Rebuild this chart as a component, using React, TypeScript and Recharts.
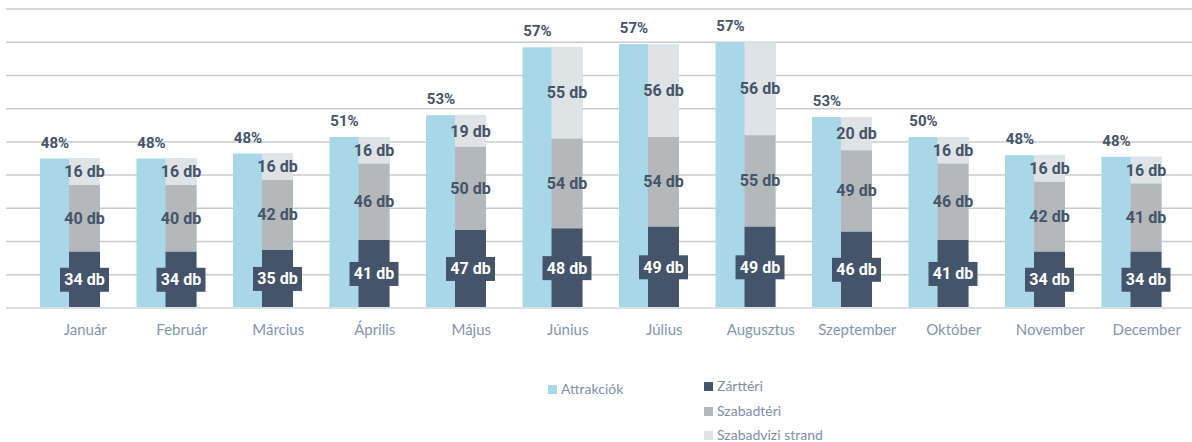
import { BarChart, Bar, XAxis, YAxis, CartesianGrid, LabelList } from 'recharts';

const months = ['Január', 'Február', 'Március', 'Április', 'Május', 'Június', 'Július', 'Augusztus', 'Szeptember', 'Október', 'November', 'December'];
const attrakciok = [90, 90, 93, 103, 116, 157, 159, 160, 115, 103, 92, 91];
const attrakciokPct = [48, 48, 48, 51, 53, 57, 57, 57, 53, 50, 48, 48];
const zartteri = [34, 34, 35, 41, 47, 48, 49, 49, 46, 41, 34, 34];
const szabadteri = [40, 40, 42, 46, 50, 54, 54, 55, 49, 46, 42, 41];
const strand = [16, 16, 16, 16, 19, 55, 56, 56, 20, 16, 16, 16];
const yTicks = [0, 20, 40, 60, 80, 100, 120, 140, 160, 180];

const BLUE = '#a8d8e8';
const DARK = '#44546a';
const GRAY = '#b5b8ba';
const LIGHT = '#dfe3e6';
const TEXT = '#44546a';
const AXIS_TEXT = '#8496b0';

const data = months.map((m, i) => ({
  month: m,
  attr: attrakciok[i],
  pct: attrakciokPct[i],
  zart: zartteri[i],
  szabad: szabadteri[i],
  strand: strand[i],
}));

const labelFont = 'Roboto, "Noto Sans", sans-serif';

const PctLabel = (props: any) => {
  const { x, y, value } = props;
  return (
    <text x={x + 15} y={y - 16} textAnchor="middle" dominantBaseline="central"
      fontFamily={labelFont} fontWeight={700} fontSize={15} fill={TEXT}>
      {value}%
    </text>
  );
};

const InnerLabel = (props: any) => {
  const { x, y, width, height, value } = props;
  return (
    <text x={x + width / 2} y={y + height / 2} textAnchor="middle" dominantBaseline="central"
      fontFamily={labelFont} fontWeight={700} fontSize={16} fill={TEXT}>
      {value} db
    </text>
  );
};

const BoxLabel = (props: any) => {
  const { x, y, width, height, value } = props;
  const cx = x + width / 2;
  const cy = y + height / 2;
  return (
    <g>
      <rect x={cx - 24.5} y={cy - 12} width={49} height={24} fill={DARK} />
      <text x={cx} y={cy} textAnchor="middle" dominantBaseline="central"
        fontFamily={labelFont} fontWeight={700} fontSize={16} fill="#ffffff">
        {value} db
      </text>
    </g>
  );
};

const MonthTick = (props: any) => {
  const { x, y, payload } = props;
  return (
    <text x={x + 15} y={y + 13} textAnchor="middle" dominantBaseline="central"
      fontFamily='Lato, "Open Sans", sans-serif' fontSize={15} fill={AXIS_TEXT}>
      {payload.value}
    </text>
  );
};

const legendItems = [
  { name: 'Attrakciók', color: BLUE, left: 548, top: 388 },
  { name: 'Zárttéri', color: DARK, left: 704, top: 385 },
  { name: 'Szabadtéri', color: GRAY, left: 704, top: 410 },
  { name: 'Szabadvizi strand', color: LIGHT, left: 704, top: 434 },
];

export default function App() {
  return (
    <div style={{ position: 'relative', width: 1192, height: 442, background: '#fff' }}>
      <style>{'body{margin:0}'}</style>
      <BarChart width={1192} height={442} data={data} barGap={-31}
        margin={{ top: 9, right: 0, left: 6, bottom: 104 }}>
        <CartesianGrid vertical={false} stroke="#cbcbcb" strokeWidth={1.5} />
        <XAxis dataKey="month" height={30} padding={{ left: 16, right: 12 }}
          axisLine={{ stroke: '#dcdfe2', strokeWidth: 2 }} tickLine={false} tick={<MonthTick />} interval={0} />
        <YAxis hide domain={[0, 180]} ticks={yTicks} />
        <Bar dataKey="attr" name="Attrakciók" stackId="a" fill={BLUE} barSize={60} isAnimationActive={false}>
          <LabelList dataKey="pct" content={<PctLabel />} />
        </Bar>
        <Bar dataKey="zart" name="Zárttéri" stackId="s" fill={DARK} barSize={31} isAnimationActive={false}>
          <LabelList dataKey="zart" content={<BoxLabel />} />
        </Bar>
        <Bar dataKey="szabad" name="Szabadtéri" stackId="s" fill={GRAY} barSize={31} isAnimationActive={false}>
          <LabelList dataKey="szabad" content={<InnerLabel />} />
        </Bar>
        <Bar dataKey="strand" name="Szabadvizi strand" stackId="s" fill={LIGHT} barSize={31} isAnimationActive={false}>
          <LabelList dataKey="strand" content={<InnerLabel />} />
        </Bar>
      </BarChart>
      {legendItems.map((item) => (
        <div key={item.name} style={{ position: 'absolute', left: item.left, top: item.top - 9, height: 18, display: 'flex', alignItems: 'center' }}>
          <div style={{ width: 9, height: 9, background: item.color, marginRight: 4, marginTop: 2 }} />
          <span style={{ fontFamily: 'Lato, "Open Sans", sans-serif', fontSize: 14, color: '#7f90a8' }}>{item.name}</span>
        </div>
      ))}
    </div>
  );
}
